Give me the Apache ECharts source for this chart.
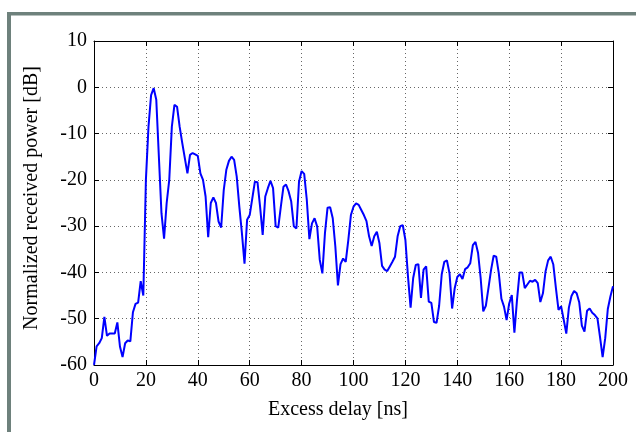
<!DOCTYPE html>
<html>
<head>
<meta charset="utf-8">
<script src="https://cdn.jsdelivr.net/npm/echarts@6/dist/echarts.min.js"></script>
<style>
html,body{margin:0;padding:0;background:#fff;}
#chart{width:636px;height:432px;}
</style>
</head>
<body>
<div id="chart"></div>
<script>
// Excess delay ticks (ns) and normalized received power (dB), sampled every 1 ns
var xTicks = [0, 20, 40, 60, 80, 100, 120, 140, 160, 180, 200];
var yTicks = [-60, -50, -40, -30, -20, -10, 0, 10];
var power = [
  -60, -56, -55.3, -54.2, -49.6, -53.7, -53.2, -53.2, -53.2, -50.8,
  -56, -58.3, -55.3, -54.7, -54.9, -48.6, -46.8, -46.5, -41.9, -45,
  -20, -8.5, -1.7, -0.2, -2.7, -15, -27.2, -32.7, -25, -20,
  -8.5, -3.8, -4.2, -8.5, -12, -15.3, -18.6, -14.6, -14.2, -14.5,
  -14.8, -18.6, -20, -23.6, -32.4, -25, -23.8, -25, -29, -30.3,
  -22.2, -17.8, -15.9, -15, -15.7, -19.3, -25.8, -31.5, -38.1, -28.6,
  -27.6, -24, -20.4, -20.5, -25.8, -31.9, -23.6, -21.8, -20.2, -21.8,
  -30, -30.3, -25.8, -21.5, -21, -22.5, -24.7, -30, -30.5, -20.4,
  -18.1, -18.7, -24.3, -32.8, -29.4, -28.3, -30.1, -37.3, -40.2, -31.5,
  -26, -25.9, -28.3, -34.4, -42.8, -38.2, -37, -37.7, -33, -27.6,
  -25.8, -25.1, -25.4, -26.5, -27.6, -28.9, -32.2, -34.3, -32.2, -31.2,
  -33.7, -38.6, -39.4, -39.7, -38.7, -37.7, -36.6, -32.2, -30, -29.8,
  -33, -40.9, -47.6, -41.2, -38.4, -38.2, -45.5, -39.4, -38.7, -46.3,
  -46.6, -50.7, -50.9, -47.2, -40.4, -37.7, -37.4, -40.2, -47.8, -43.4,
  -41, -40.4, -41.4, -39.3, -38.9, -38, -34.1, -33.4, -35.8, -41.2,
  -48.4, -47.2, -43.4, -39.5, -36.4, -36.6, -40.2, -45.7, -47.4, -50.3,
  -46.7, -44.9, -53, -46, -40, -40, -43.4, -42.6, -41.8, -42,
  -41.6, -42.3, -46.4, -44.5, -39.8, -37.4, -36.6, -38.3, -43.4, -48.1,
  -47.3, -50.2, -53.2, -47.6, -45.1, -44, -44.5, -46.5, -51.5, -52.8,
  -48.3, -47.8, -48.7, -49.2, -49.9, -54, -58.3, -54.2, -47.9, -45.2,
  -43
];
var xTitle = 'Excess delay [ns]';
var yTitle = 'Normalized received power [dB]';

var seriesData = power.map(function (v, i) { return [i, v]; });

var FONT = 'Liberation Serif';
var chart = echarts.init(document.getElementById('chart'), null, {renderer: 'canvas'});

var gridLine = {show: true, lineStyle: {color: '#666', width: 1, type: [1, 3]}};
var tickIn = {show: true, inside: true, length: 5, lineStyle: {color: '#000', width: 1}};

chart.setOption({
  animation: false,
  backgroundColor: '#fff',
  grid: {left: 94, right: 23, top: 41, bottom: 67, containLabel: false},
  xAxis: [{
    type: 'value', min: xTicks[0], max: xTicks[xTicks.length - 1], interval: 20,
    axisLine: {show: true, onZero: false, lineStyle: {color: '#000', width: 1}},
    axisTick: tickIn,
    splitLine: gridLine,
    axisLabel: {color: '#000', fontFamily: FONT, fontSize: 20, margin: 6}
  }, {
    type: 'value', position: 'top', min: xTicks[0], max: xTicks[xTicks.length - 1], interval: 20,
    axisLine: {show: true, onZero: false, lineStyle: {color: '#000', width: 1}},
    axisTick: tickIn, splitLine: {show: false}, axisLabel: {show: false}
  }],
  yAxis: [{
    type: 'value', min: yTicks[0], max: yTicks[yTicks.length - 1], interval: 10,
    axisLine: {show: true, onZero: false, lineStyle: {color: '#000', width: 1}},
    axisTick: tickIn,
    splitLine: gridLine,
    axisLabel: {color: '#000', fontFamily: FONT, fontSize: 20, margin: 7}
  }, {
    type: 'value', position: 'right', min: yTicks[0], max: yTicks[yTicks.length - 1], interval: 10,
    axisLine: {show: true, onZero: false, lineStyle: {color: '#000', width: 1}},
    axisTick: tickIn, splitLine: {show: false}, axisLabel: {show: false}
  }],
  series: [{
    type: 'line', data: seriesData, showSymbol: false, symbol: 'none',
    lineStyle: {color: '#0000ff', width: 2}, itemStyle: {color: '#0000ff'}
  }],
  graphic: [
    {type: 'rect', left: 7, top: 12, shape: {width: 4, height: 420}, style: {fill: '#6e817c'}, silent: true},
    {type: 'rect', left: 7, top: 12, shape: {width: 629, height: 3.5}, style: {fill: '#6e817c'}, silent: true},
    {type: 'text', x: 338, y: 410, style: {text: xTitle, fontFamily: FONT, fontSize: 20, fill: '#000', align: 'center', verticalAlign: 'middle'}, silent: true},
    {type: 'text', x: 32, y: 198, rotation: Math.PI / 2, style: {text: yTitle, fontFamily: FONT, fontSize: 20, fill: '#000', align: 'center', verticalAlign: 'middle'}, silent: true}
  ]
});
</script>
</body>
</html>
